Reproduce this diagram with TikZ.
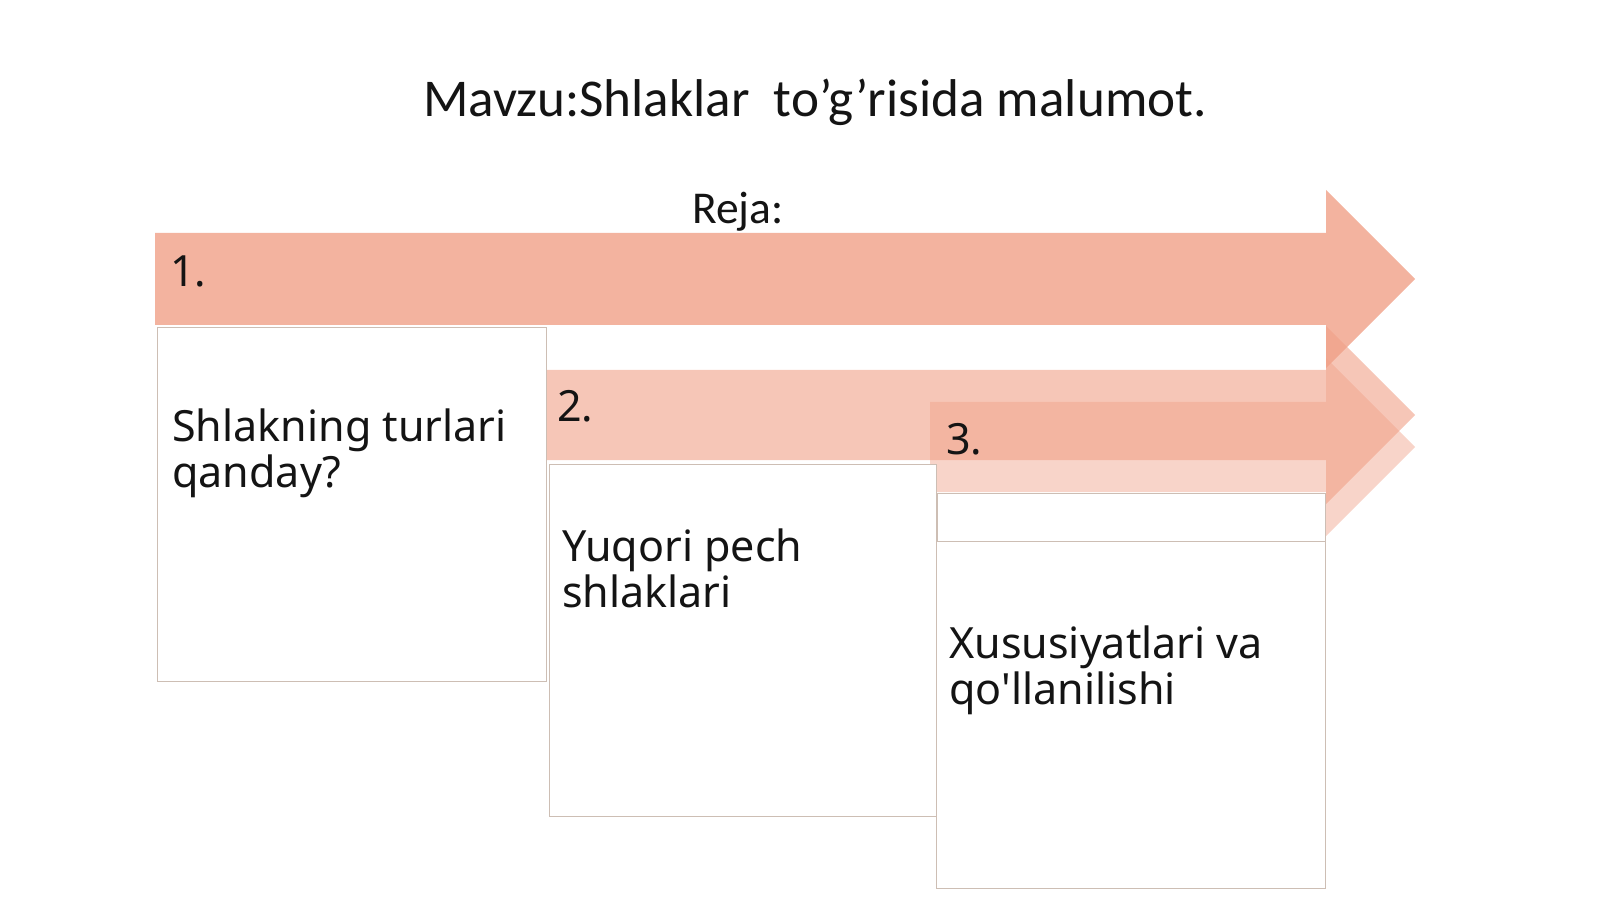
\documentclass[tikz,border=0pt]{standalone}
\usepackage{fontspec}
\setmainfont{Noto Sans}
\newfontfamily\titlefont{Carlito}
\definecolor{rejaarrow}{RGB}{240,160,135}
\definecolor{boxline}{RGB}{205,190,180}
\definecolor{textblack}{RGB}{20,20,20}

\begin{document}
\begin{tikzpicture}[x=0.025cm,y=-0.025cm]
    \tikzstyle{planbox}=[draw=boxline, fill=white, line width=0.6pt]
    \tikzstyle{plantext}=[anchor=base west, inner sep=0pt, align=left, text=textblack,
                          font=\fontsize{30.6}{32.7}\selectfont]
    \useasboundingbox (0,0) rectangle (1600,899);

    % arrows: left end, shaft top, shaft bottom, centre, opacity
    \foreach \xl/\yt/\yb/\yc/\op in {155/233/325/279/0.8, 543/370/460/415/0.6, 930/402/492/447/0.45}
        \fill[rejaarrow, fill opacity=\op]
            (\xl,\yt) -- (1326,\yt) -- (1326,\yc-89) -- (1415,\yc)
            -- (1326,\yc+89) -- (1326,\yb) -- (\xl,\yb) -- cycle;

    % boxes
    \draw[planbox] (157,327) rectangle (546,681);
    \draw[planbox] (549,464) rectangle (936,816);
    \draw[planbox] (937,493) rectangle (1325,541);
    \draw[planbox] (936,541) rectangle (1325,888);

    \node[anchor=base, text=textblack, font=\titlefont\fontsize{37.8}{46}\selectfont] (title)
        at (815,117) {Mavzu:Shlaklar\ \ to’g’risida malumot.};
    \node[anchor=base, text=textblack, font=\titlefont\fontsize{32.4}{38}\selectfont] (reja)
        at (738,224) {Reja:};

    \node[plantext] (num1) at (170,287) {1.};
    \node[plantext] (num2) at (557,421) {2.};
    \node[plantext] (num3) at (946,454) {3.};

    % base of a two-line node is its last line
    \node[plantext] (step1) at (172,487) {Shlakning turlari\\qanday?};
    \node[plantext] (step2) at (562,607) {Yuqori pech\\shlaklari};
    \node[plantext] (step3) at (949,704) {Xususiyatlari va\\qo\textquotesingle llanilishi};
\end{tikzpicture}
\end{document}
